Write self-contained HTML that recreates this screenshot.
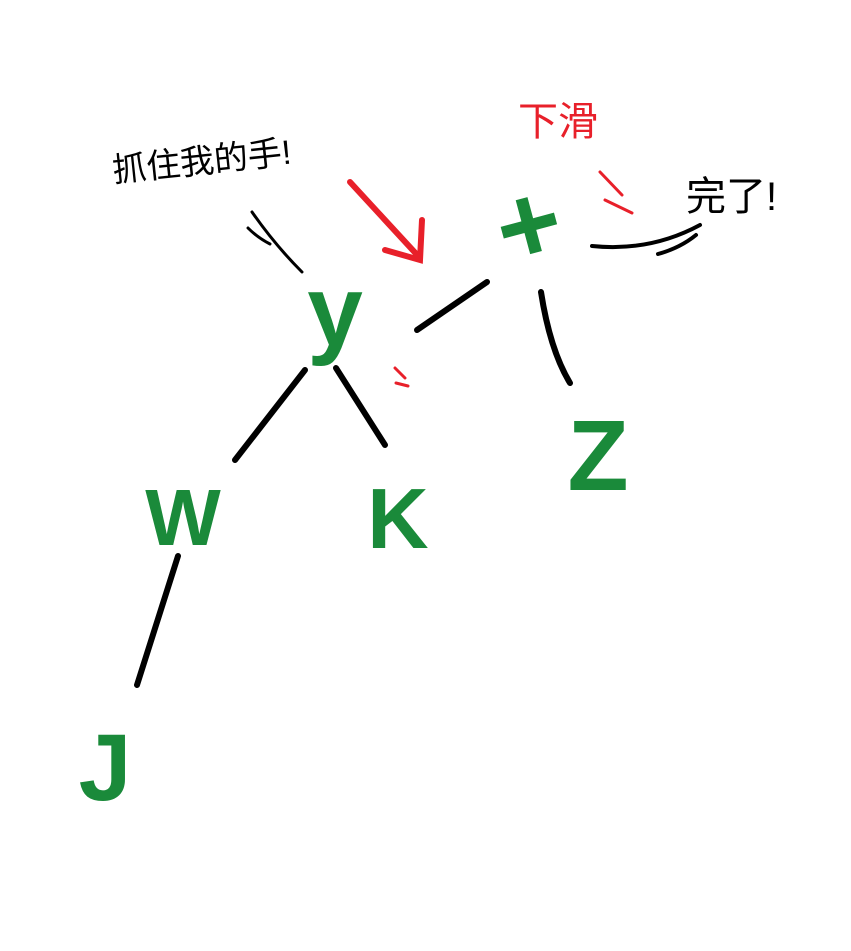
<!DOCTYPE html>
<html><head><meta charset="utf-8"><style>
html,body{margin:0;padding:0;background:#fff;width:851px;height:951px;overflow:hidden}
svg{display:block}
.g{fill:#1a8a3a;font-family:"Liberation Sans",sans-serif;font-weight:bold}
.k{stroke:#000;stroke-width:6;stroke-linecap:round;fill:none}
.r{stroke:#e8202a;stroke-width:5;stroke-linecap:round;fill:none}
</style></head><body>
<svg width="851" height="951" viewBox="0 0 851 951">
  <text x="112" y="172" font-size="34" font-family="'Liberation Sans','Noto Sans CJK SC',sans-serif" transform="rotate(-6 210 160)">抓住我的手!</text>
  <path class="k" d="M252 212 Q275 245 302 272 M248 228 Q258 238 270 244" style="stroke-width:3"/>
  <path class="r" d="M350 182 L420 258 M422 220 L420 260 L385 250" style="stroke-width:6"/>
  <text x="518" y="135" font-size="40" fill="#e8202a" font-family="'Liberation Sans','Noto Sans CJK SC',sans-serif">下滑</text>
  <path class="r" d="M600 172 L622 195 M605 200 L632 213" style="stroke-width:3"/>
  <path class="r" d="M395 368 L405 378 M396 383 L408 386" style="stroke-width:3"/>
  <text x="686" y="210" font-size="40" font-family="'Liberation Sans','Noto Sans CJK SC',sans-serif">完了!</text>
  <path class="k" d="M592 246 Q650 252 700 225 M658 254 Q680 248 696 235" style="stroke-width:4"/>
  <path class="k" d="M417 330 L487 282"/>
  <path class="k" d="M541 292 Q550 350 570 383"/>
  <path class="k" d="M305 370 L235 460"/>
  <path class="k" d="M336 368 L385 445"/>
  <path class="k" d="M178 556 L137 685"/>
  <text class="g" x="530" y="262" font-size="110" text-anchor="middle" transform="rotate(-15 530 230)">+</text>
  <text class="g" x="335" y="345" font-size="100" text-anchor="middle">y</text>
  <text class="g" x="598" y="490" font-size="100" text-anchor="middle">Z</text>
  <text class="g" x="183" y="545" font-size="80" text-anchor="middle">W</text>
  <text class="g" x="398" y="548" font-size="85" text-anchor="middle">K</text>
  <text class="g" x="105" y="800" font-size="95" text-anchor="middle">J</text>
</svg>
</body></html>
